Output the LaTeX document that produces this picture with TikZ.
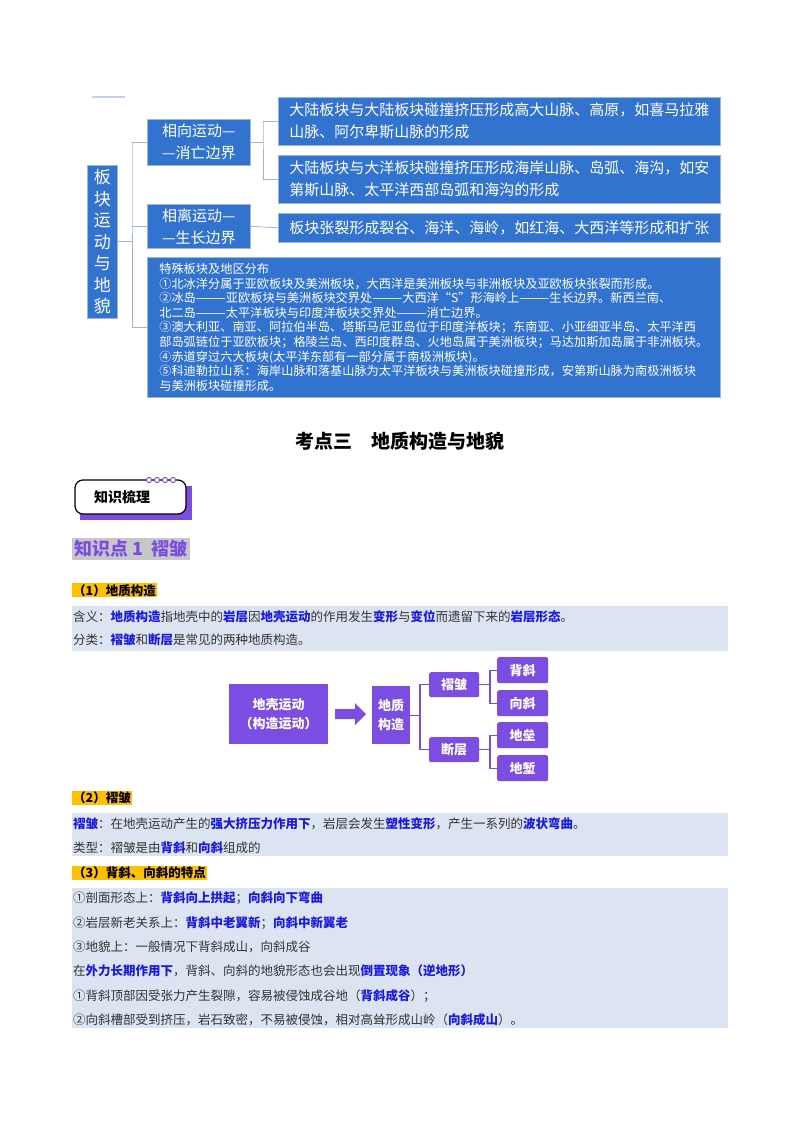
\documentclass[tikz,border=0pt]{standalone}
\usepackage{fontspec}
\setmainfont{Noto Sans CJK SC}
\usetikzlibrary{calc}
\definecolor{bbox}{HTML}{3273D0}
\definecolor{bline}{HTML}{9DB4DE}
\definecolor{pur}{HTML}{7C4DE3}
\definecolor{hlb}{HTML}{1B1BE0}
\definecolor{band}{HTML}{DCE3F1}
\definecolor{orng}{HTML}{FFC000}
\definecolor{txt}{HTML}{333333}
\newcommand{\hb}[1]{\textcolor{hlb}{\bfseries #1}}
\newcommand{\fs}[2]{\fontsize{#1}{#2}\selectfont}
\tikzset{
 bb/.style={fill=bbox,draw=bline,line width=0.6pt,text=white,anchor=north west,inner sep=3pt,align=left},
 pb/.style={fill=pur,text=white,rounded corners=2pt,anchor=north west,inner sep=0pt,align=center,font=\fs{13}{19}\bfseries},
 bl/.style={draw=bline,line width=0.8pt},
 pl/.style={draw=pur,line width=1.3pt},
 lab/.style={fill=orng,anchor=north west,inner sep=1pt,font=\fs{12.5}{14}\bfseries},
 ln/.style={anchor=west,inner sep=0pt,text=txt,font=\fs{12.5}{14}},
}
\begin{document}
\begin{tikzpicture}[x=1pt,y=-1pt]
\useasboundingbox (0,0) rectangle (800,1132);
\fill[white] (0,0) rectangle (800,1132);
% top small line
\draw[bline!60,line width=1.5pt] (92,97) -- (125,97);
% plate tree
\node[bb,minimum width=30pt,minimum height=153pt,inner sep=0pt,align=center,font=\fs{17}{21.5}] (root) at (87,165) {板\\块\\运\\动\\与\\地\\貌};
\node[bb,minimum width=103pt,minimum height=46pt,font=\fs{15}{22}] (xx) at (147,119) {相向运动—\\—消亡边界};
\node[bb,minimum width=103pt,minimum height=44pt,font=\fs{15}{22}] (xl) at (147,204) {相离运动—\\—生长边界};
\node[bb,minimum width=442pt,minimum height=48pt,font=\fs{15}{22}] (b1) at (278,97) {大陆板块与大陆板块碰撞挤压形成高大山脉、高原，如喜马拉雅\\山脉、阿尔卑斯山脉的形成};
\node[bb,minimum width=442pt,minimum height=48pt,font=\fs{15}{22}] (b2) at (278,155) {大陆板块与大洋板块碰撞挤压形成海岸山脉、岛弧、海沟，如安\\第斯山脉、太平洋西部岛弧和海沟的形成};
\node[bb,minimum width=442pt,minimum height=29pt,font=\fs{15}{22}] (b3) at (278,213) {板块张裂形成裂谷、海洋、海岭，如红海、大西洋等形成和扩张};
\node[bb,minimum width=573pt,minimum height=140pt,font=\fs{12.2}{14.6}] (big) at (147,257) {特殊板块及地区分布\\
①北冰洋分属于亚欧板块及美洲板块，大西洋是美洲板块与非洲板块及亚欧板块张裂而形成。\\
②冰岛———亚欧板块与美洲板块交界处———大西洋“S”形海岭上———生长边界。新西兰南、\\
北二岛———太平洋板块与印度洋板块交界处———消亡边界。\\
③澳大利亚、南亚、阿拉伯半岛、塔斯马尼亚岛位于印度洋板块；东南亚、小亚细亚半岛、太平洋西\\
部岛弧链位于亚欧板块；格陵兰岛、西印度群岛、火地岛属于美洲板块；马达加斯加岛属于非洲板块。\\
④赤道穿过六大板块(太平洋东部有一部分属于南极洲板块)。\\
⑤科迪勒拉山系：海岸山脉和落基山脉为太平洋板块与美洲板块碰撞形成，安第斯山脉为南极洲板块\\
与美洲板块碰撞形成。};
\coordinate (t1) at (132,142);
\draw[bl] (root.east) -- (root.east -| t1);
\draw[bl] (xx.west) -| (t1) |- (big.west);
\draw[bl] (xl.west) -- (xl.west -| t1);
\coordinate (t2) at (263,121);
\draw[bl] (xx.east) -- (xx.east -| t2);
\draw[bl] (b1.west) -| (t2) |- (b2.west);
\draw[bl] (xl.east) -- (b3.west);
% title
\node[font=\fs{19}{22}\bfseries] (title) at (400,441) {考点三\quad 地质构造与地貌};
% badge
\fill[pur] (80,486) rectangle (192,520);
\draw[line width=1.2pt,fill=white,rounded corners=8pt] (75,480) rectangle (186,514);
\node[font=\fs{14}{16}\bfseries] (badge) at (122,497) {知识梳理};
\foreach \i in {0,1,2,3} \draw[pur,line width=1pt,fill=white] (149+\i*8,480) circle (2.6pt);
% knowledge point
\node[fill=black!22,anchor=north west,inner sep=2pt,text=pur,font=\fs{18}{20}\bfseries] (kp) at (72,538) {知识点 1\ \ 褶皱};
% section 1
\node[lab] (s1) at (72,583) {（1）地质构造};
\fill[band] (72,606) rectangle (728,651);
\node[ln] (l1) at (73,617) {含义：\hb{地质构造}指地壳中的\hb{岩层}因\hb{地壳运动}的作用发生\hb{变形}与\hb{变位}而遗留下来的\hb{岩层形态}。};
\node[ln] (l2) at (73,640) {分类：\hb{褶皱}和\hb{断层}是常见的两种地质构造。};
% purple diagram
\node[pb,minimum width=99pt,minimum height=60pt,rounded corners=0pt] (dk) at (229,684) {地壳运动\\（构造运动）};
\node[pb,minimum width=38pt,minimum height=58pt,rounded corners=0pt] (dz) at (372,686) {地质\\构造};
\node[pb,minimum width=50pt,minimum height=25pt] (zz) at (429,672) {褶皱};
\node[pb,minimum width=50pt,minimum height=25pt] (dc) at (429,737) {断层};
\node[pb,minimum width=51pt,minimum height=26pt] (bx) at (497,657) {背斜};
\node[pb,minimum width=51pt,minimum height=26pt] (xq) at (497,690) {向斜};
\node[pb,minimum width=51pt,minimum height=26pt] (dl) at (497,722) {地垒};
\node[pb,minimum width=51pt,minimum height=26pt] (dq) at (497,755) {地堑};
\coordinate (a1) at (335,714);
\fill[pur] (335,709) -- (355,709) -- (355,703) -- (366,714) -- (355,725) -- (355,719) -- (335,719) -- cycle;
\coordinate (p1) at (420,685);
\draw[pl] (dz.east) -- (dz.east -| p1);
\draw[pl] (zz.west) -| (p1) |- (dc.west);
\coordinate (p2) at (490,670);
\draw[pl] (zz.east) -- (zz.east -| p2);
\draw[pl] (bx.west) -| (p2) |- (xq.west);
\coordinate (p3) at (490,735);
\draw[pl] (dc.east) -- (dc.east -| p3);
\draw[pl] (dl.west) -| (p3) |- (dq.west);
% section 2
\node[lab] (s2) at (72,791) {（2）褶皱};
\fill[band] (72,813) rectangle (728,856);
\node[ln] (l3) at (73,824) {\hb{褶皱}：在地壳运动产生的\hb{强大挤压力作用下}，岩层会发生\hb{塑性变形}，产生一系列的\hb{波状弯曲}。};
\node[ln] (l4) at (73,848) {类型：褶皱是由\hb{背斜}和\hb{向斜}组成的};
% section 3
\node[lab] (s3) at (72,866) {（3）背斜、向斜的特点};
\fill[band] (72,888) rectangle (728,1028);
\node[ln] (m1) at (73,898) {①剖面形态上：\hb{背斜向上拱起}；\hb{向斜向下弯曲}};
\node[ln] (m2) at (73,923) {②岩层新老关系上：\hb{背斜中老翼新}；\hb{向斜中新翼老}};
\node[ln] (m3) at (73,947) {③地貌上：一般情况下背斜成山，向斜成谷};
\node[ln] (m4) at (73,971) {在\hb{外力长期作用下}，背斜、向斜的地貌形态也会出现\hb{倒置现象（逆地形）}};
\node[ln] (m5) at (73,996) {①背斜顶部因受张力产生裂隙，容易被侵蚀成谷地（\hb{背斜成谷}）；};
\node[ln] (m6) at (73,1020) {②向斜槽部受到挤压，岩石致密，不易被侵蚀，相对高耸形成山岭（\hb{向斜成山}）。};
\end{tikzpicture}
\end{document}
